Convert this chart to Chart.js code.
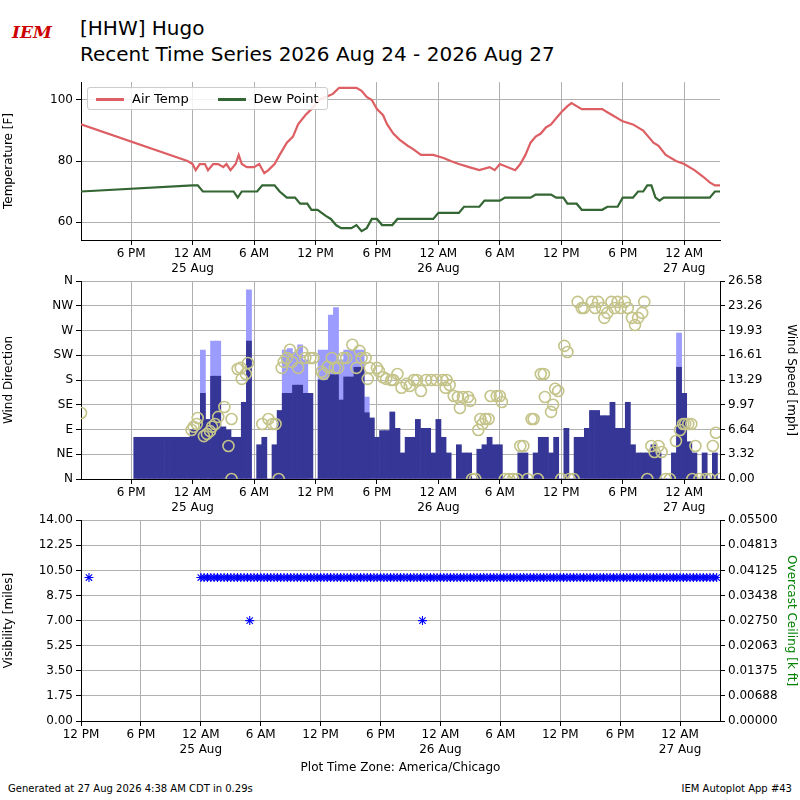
<!DOCTYPE html>
<html>
<head>
<meta charset="utf-8">
<script src="https://cdn.jsdelivr.net/npm/chart.js@4.4.1/dist/chart.umd.min.js"></script>
<style>
  body { margin: 0; width: 800px; height: 800px; background: #fff; font-family: 'DejaVu Sans', sans-serif; position: relative; overflow: hidden; }
  canvas { position: absolute; left: 0; }
  .t { position: absolute; color: #000; white-space: nowrap; }
  #legend { position: absolute; left: 87px; top: 87px; border: 1px solid #ccc; border-radius: 3px; background: rgba(255,255,255,0.85); padding: 3px 8px; font-size: 13px; }
  #legend span.l { display: inline-block; width: 28px; height: 3px; vertical-align: middle; margin-right: 8px; }
</style>
</head>
<body>
<div class="t" style="left:12px;top:22px;font:italic bold 17px 'DejaVu Serif';color:#c00;">IEM</div>
<div class="t" style="left:80px;top:16px;font-size:20px;">[HHW] Hugo</div>
<div class="t" style="left:80px;top:42px;font-size:20px;">Recent Time Series 2026 Aug 24 - 2026 Aug 27</div>
<canvas id="c1" width="800" height="210" style="top:70px"></canvas>
<canvas id="c2" width="800" height="250" style="top:270px"></canvas>
<canvas id="c3" width="800" height="265" style="top:510px"></canvas>
<div id="legend"><span class="l" style="background:#dd5e63"></span>Air Temp&nbsp;&nbsp;&nbsp;&nbsp;&nbsp;&nbsp;&nbsp;<span class="l" style="background:#336633"></span>Dew Point</div>
<div class="t" style="left:8px;top:783px;font-size:10px;">Generated at 27 Aug 2026 4:38 AM CDT in 0.29s</div>
<div class="t" style="right:8px;top:783px;font-size:10px;">IEM Autoplot App #43</div>
<script>
// hours since 2026-08-24 00:00 CDT
var tempObs = [[13.1,92],[23.5,80],[24,79],[24.3,77],[24.7,79],[25.2,79],[25.5,77],[26,79],[26.5,79],[27,78],[27.3,79],[27.7,77],[28.2,79],[28.5,82],[28.8,79],[29.3,78],[30,78],[30.5,79],[31,76],[31.4,77],[32,79],[32.5,82],[33.2,86],[33.8,88],[34.3,92],[35,95],[35.6,97],[36.3,100],[37,101],[37.7,102],[38.3,104],[39,104],[40,104],[40.5,103],[41,101],[41.5,100],[42,97],[42.6,95],[43,92],[43.6,89],[44.2,87],[45,85],[45.5,84],[46.3,82],[47.5,82],[48.5,81],[49.2,80],[50,79],[51,78],[52,77],[53,78],[53.5,77],[54,79],[55.5,77],[56,79],[56.5,82],[57,86],[57.5,88],[58,89],[58.5,91],[59,92],[59.5,94],[60,96],[60.6,98],[61,99],[61.5,98],[62,97],[63,97],[64,97],[64.5,96],[65,95],[66,93],[67,92],[68,90],[68.5,88],[69,86],[69.5,85],[70.2,82],[71.2,80],[72,79],[73,77],[73.8,75],[74.5,73],[75,72],[75.5,72]];
var dewObs = [[13.1,70],[24,72],[24.5,72],[25,70],[28,70],[28.4,68],[28.8,70],[30.3,70],[30.8,72],[32,72],[32.5,70],[33.2,68],[34,68],[34.5,66],[35.2,66],[35.6,64],[36.2,64],[37,62],[37.5,61],[38,59],[38.5,58],[39.5,58],[40,59],[40.5,57],[41,58],[41.5,61],[42,61],[42.5,59],[43.5,59],[44,61],[47.5,61],[48,63],[50,63],[50.5,65],[52,65],[52.5,67],[54,67],[54.5,68],[57,68],[57.5,69],[59,69],[59.5,68],[60.2,68],[60.6,66],[61.5,66],[62,64],[64,64],[64.5,65],[65.5,65],[66,68],[67,68],[67.5,70],[68,70],[68.4,72],[68.8,72],[69.2,68],[69.6,67],[70,68],[74.5,68],[75,70],[75.5,70]];

var windTimes = [18.5,19,19.5,20,20.5,21,21.5,22,22.5,23,23.5,24,24.5,25,25.5,26,26.5,27,27.5,28,28.5,29,29.5,30,30.5,31,31.5,32,32.5,33,33.5,34,34.5,35,35.5,36,36.5,37,37.5,38,38.5,39,39.5,40,40.5,41,41.5,42,42.5,43,43.5,44,44.5,45,45.5,46,46.5,47,47.5,48,48.5,49,49.5,50,50.5,51,51.5,52,52.5,53,53.5,54,54.5,55,55.5,56,56.5,57,57.5,58,58.5,59,59.5,60,60.5,61,61.5,62,62.5,63,63.5,64,64.5,65,65.5,66,66.5,67,67.5,68,68.5,69,69.5,70,70.5,71,71.5,72,72.5,73,73.5,74,74.5,75,75.5];
var windSpeed = [5.6,5.6,5.6,5.6,5.6,5.6,5.6,5.6,5.6,5.6,5.6,6.6,6.6,11.5,8,13.8,13.8,7,6.6,5.6,5.6,10.3,18.5,0,4.6,5.6,0,4.6,9.2,11.5,11.5,12.6,12.6,11.5,11.5,0,13.3,13.3,14,14,10.6,13.7,13.7,15,15,8.9,8.2,5.6,6.5,6.5,9,6.8,3.5,5.6,5.6,8,6.8,6.8,3.5,8,5.6,3.5,0,4.6,3.5,3.5,0,4,4.6,5.6,4.6,4.6,0,0,0,3.5,3.5,0,3.5,5.6,5.6,3.5,5.6,0,6.8,0,5.6,5.6,6.8,9.2,9.2,8.5,8.5,10.3,6.8,6.8,10.3,4.6,3.5,3.5,3.5,4.6,3.5,0,0,3.5,15,11.5,5,3.5,0,3.5,0,3.5,0];
var gustTimes = [25,26,26.5,29.5,33,33.5,34,34.5,35,36.5,37,37.5,38,38.5,39,39.5,40,40.5,41,71.5];
var gustSpeed = [17.3,18.5,18.5,25.4,17.3,17.5,17,18,16,17.3,17.3,22,23,16,17.3,17.3,17.3,17.3,11,19.6];

var dirObs = [[13.1,120],[23.9,89],[24.1,95],[24.4,100],[24.5,111],[25.1,78],[25.4,82],[25.7,87],[25.9,95],[26.2,100],[26.5,113],[27.1,131],[27.5,60],[27.8,109],[27.8,0],[28.4,200],[28.7,202],[28.8,182],[29.2,191],[29.4,211],[30.8,100],[31.4,109],[31.8,100],[32.1,100],[32.4,0],[32.7,202],[32.9,213],[33.2,220],[33.5,235],[33.7,213],[34.3,202],[34.7,231],[35,220],[35.5,220],[35.8,220],[36.6,195],[36.8,191],[37.2,204],[37.6,220],[37.9,202],[38.2,202],[38.7,220],[39,220],[39.6,244],[40,202],[40.3,233],[40.5,220],[40.9,220],[41.1,182],[41.3,202],[42,202],[42.2,196],[42.6,185],[42.9,182],[43.4,180],[43.6,180],[44,191],[44.4,166],[44.9,173],[45.2,169],[45.6,180],[45.9,180],[46.3,160],[46.8,180],[47.3,180],[47.8,180],[48.4,180],[48.8,180],[48.7,166],[49.1,171],[49.5,151],[49.9,149],[50.1,129],[50.4,149],[50.9,149],[51.1,142],[51.3,0],[51.6,0],[51.9,89],[52.1,109],[52.3,100],[52.6,109],[52.9,109],[53.1,151],[53.7,151],[54,151],[54.2,140],[54.5,0],[54.9,0],[55.3,0],[55.7,0],[56,60],[56.3,60],[56.7,0],[57.1,109],[57.3,109],[57.7,0],[58,191],[58.3,191],[58.4,149],[59,122],[59.2,135],[59.4,164],[59.7,160],[60,0],[60.3,242],[60.6,231],[60.8,0],[61.2,0],[61.6,322],[62,311],[62.2,311],[63,322],[63.3,311],[63.6,322],[64,311],[64.2,293],[64.5,302],[64.9,322],[65.2,311],[65.5,322],[65.8,311],[66.2,322],[66.5,311],[66.9,293],[67.2,280],[67.5,293],[67.9,302],[68.1,322],[68.4,0],[68.8,60],[69.1,49],[69.5,60],[69.8,49],[70.2,0],[70.6,0],[71.2,69],[71.6,89],[71.9,100],[72.1,100],[72.4,100],[72.7,100],[72.8,0],[73.1,60],[73.5,0],[74.1,0],[74.5,0],[74.8,60],[75.1,84],[75.5,0]];

// visibility: regular 20-minute reports at 10 miles, except these
var visEarly = [[12.8,10]];
var visLow = [[28.9,7],[46.2,7]];
var visStart = 24, visEnd = 76;

var dirLabels = ['N','NE','E','SE','S','SW','W','NW','N'];

var GRID = '#b0b0b0';
var FONT = { family: 'DejaVu Sans', size: 12 };
Chart.defaults.font.family = 'DejaVu Sans';
Chart.defaults.color = '#000';
Chart.defaults.animation = false;

function pts(a) { return a.map(function (p) { return { x: p[0], y: p[1] }; }); }

function timeLabel(h) {
  var hr = ((h % 24) + 24) % 24;
  var day = 24 + Math.floor(h / 24);
  if (hr === 0) return ['12 AM', day + ' Aug'];
  if (hr === 6) return '6 AM';
  if (hr === 12) return '12 PM';
  return '6 PM';
}

function timeAxis(min, max, first, height, title) {
  return {
    type: 'linear', min: min, max: max, offset: false,
    grid: { color: GRID, tickColor: '#000', tickLength: 5, offset: false },
    border: { color: '#000' },
    afterBuildTicks: function (s) {
      var t = [];
      for (var v = first; v <= max; v += 6) t.push({ value: v });
      s.ticks = t;
    },
    afterFit: function (s) { s.height = height; },
    ticks: { font: FONT, color: '#000', maxRotation: 0, autoSkip: false, padding: 2, callback: timeLabel },
    title: title ? { display: true, text: title, font: { size: 12 }, padding: 0 } : { display: false }
  };
}

function yAxis(pos, width, opts) {
  var a = {
    position: pos,
    grid: { color: GRID, tickColor: '#000', tickLength: 5, drawOnChartArea: pos === 'left' },
    border: { color: '#000' },
    afterFit: function (s) { s.width = width; },
    ticks: { font: FONT, color: '#000', autoSkip: false }
  };
  for (var k in opts) a[k] = opts[k];
  return a;
}

// ── Temperature ──
new Chart(document.getElementById('c1'), {
  type: 'line',
  data: { datasets: [
    { data: pts(tempObs), borderColor: '#dd5e63', borderWidth: 2.2, pointRadius: 0, tension: 0 },
    { data: pts(dewObs), borderColor: '#336633', borderWidth: 2.2, pointRadius: 0, tension: 0 }
  ] },
  options: {
    responsive: false,
    layout: { padding: { top: 12, right: 80, left: 0, bottom: 0 } },
    plugins: { legend: { display: false }, tooltip: { enabled: false } },
    scales: {
      x: timeAxis(13.1, 75.5, 18, 40),
      y: yAxis('left', 81, {
        min: 54.1, max: 105.9,
        afterBuildTicks: function (s) { s.ticks = [{ value: 60 }, { value: 80 }, { value: 100 }]; },
        title: { display: true, text: 'Temperature [F]', font: { size: 12 }, padding: 2 }
      })
    }
  }
});

// ── Wind ──
var spdTicks = [];
for (var i = 0; i <= 8; i++) spdTicks.push({ value: 26.58 * i / 8 });
new Chart(document.getElementById('c2'), {
  type: 'bar',
  data: { datasets: [
    { type: 'scatter', data: pts(dirObs), yAxisID: 'y', pointRadius: 5.5, pointBorderWidth: 1.6,
      pointBackgroundColor: 'rgba(0,0,0,0)', pointBorderColor: '#c4c48a', order: 1 },
    { data: windTimes.map(function (t, i) { return { x: t, y: windSpeed[i] }; }), yAxisID: 'y2',
      backgroundColor: '#363696', barPercentage: 1, categoryPercentage: 1, grouped: false, order: 2 },
    { data: gustTimes.map(function (t, i) { return { x: t, y: gustSpeed[i] }; }), yAxisID: 'y2',
      backgroundColor: '#9c9cff', barPercentage: 1, categoryPercentage: 1, grouped: false, order: 3 }
  ] },
  options: {
    responsive: false,
    layout: { padding: { top: 11, right: 0, left: 0, bottom: 0 } },
    plugins: { legend: { display: false }, tooltip: { enabled: false } },
    scales: {
      x: timeAxis(13.1, 75.5, 18, 41),
      y: yAxis('left', 81, {
        min: 0, max: 360,
        afterBuildTicks: function (s) { s.ticks = dirLabels.map(function (_, i) { return { value: i * 45 }; }); },
        ticks: { font: FONT, color: '#000', autoSkip: false, callback: function (v) { return dirLabels[Math.round(v / 45)]; } },
        title: { display: true, text: 'Wind Direction', font: { size: 12 }, padding: 2 }
      }),
      y2: yAxis('right', 80, {
        min: 0, max: 26.58,
        afterBuildTicks: function (s) { s.ticks = spdTicks.slice(); },
        ticks: { font: FONT, color: '#000', autoSkip: false, callback: function (v) { return v.toFixed(2); } },
        title: { display: true, text: 'Wind Speed [mph]', font: { size: 12 }, padding: 2 }
      })
    }
  }
});

// ── Visibility ──
var visPts = pts(visEarly);
for (var t = visStart; t <= visEnd; t += 1 / 3) visPts.push({ x: t, y: 10 });
visPts = visPts.concat(pts(visLow));
var visTicks = [], ceilTicks = [];
for (var j = 0; j <= 8; j++) { visTicks.push({ value: 1.75 * j }); ceilTicks.push({ value: 0.006875 * j }); }
new Chart(document.getElementById('c3'), {
  type: 'scatter',
  data: { datasets: [
    { data: visPts, yAxisID: 'y', pointStyle: 'star', pointRadius: 4.5, pointBorderWidth: 1.1,
      pointBorderColor: '#0000ff', pointBackgroundColor: '#0000ff' },
    { data: [], yAxisID: 'y2' }
  ] },
  options: {
    responsive: false,
    layout: { padding: { top: 10, right: 0, left: 0, bottom: 0 } },
    plugins: { legend: { display: false }, tooltip: { enabled: false } },
    scales: {
      x: timeAxis(12, 76, 12, 54, 'Plot Time Zone: America/Chicago'),
      y: yAxis('left', 81, {
        min: 0, max: 14,
        afterBuildTicks: function (s) { s.ticks = visTicks.slice(); },
        ticks: { font: FONT, color: '#000', autoSkip: false, callback: function (v) { return v.toFixed(2); } },
        title: { display: true, text: 'Visibility [miles]', font: { size: 12 }, padding: 2 }
      }),
      y2: yAxis('right', 80, {
        min: 0, max: 0.055,
        afterBuildTicks: function (s) { s.ticks = ceilTicks.slice(); },
        ticks: { font: FONT, color: '#000', autoSkip: false, callback: function (v) { return v.toFixed(5); } },
        title: { display: true, text: 'Overcast Ceiling [k ft]', color: '#008000', font: { size: 12 }, padding: 2 }
      })
    }
  }
});
</script>
</body>
</html>
